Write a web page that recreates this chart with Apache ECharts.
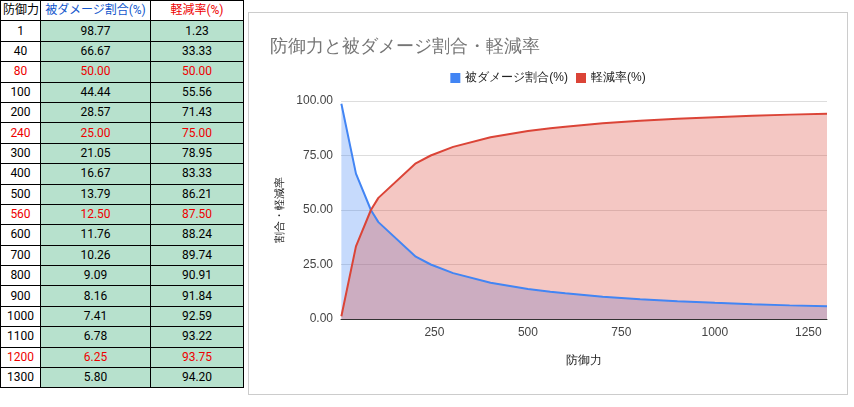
<!DOCTYPE html>
<html><head><meta charset="utf-8">
<script src="https://cdn.jsdelivr.net/npm/echarts@6/dist/echarts.min.js"></script>
<style>
body{margin:0;width:854px;height:407px;background:#fff;font-family:Roboto,"Noto Sans CJK JP",sans-serif;position:relative;overflow:hidden}
table{position:absolute;left:0;top:0;border-collapse:collapse;font-size:12px;table-layout:fixed;width:243px}
td{border:1px solid #000;height:20.4px;padding:0 2px;text-align:center;line-height:19px;white-space:nowrap;overflow:hidden;box-sizing:border-box}
td.g{background:#b7e1cd}
#c{position:absolute;left:248px;top:12px;width:600px;height:383px;border:1px solid #ccc;box-sizing:border-box}
</style></head><body>
<table id="t"><colgroup><col style="width:40px"><col style="width:110px"><col style="width:93px"></colgroup><tbody id="tb"></tbody></table>
<div id="c"></div>
<script>
const defense=[1,40,80,100,200,240,300,400,500,560,600,700,800,900,1000,1100,1200,1300];
const damage=[98.77,66.67,50.00,44.44,28.57,25.00,21.05,16.67,13.79,12.50,11.76,10.26,9.09,8.16,7.41,6.78,6.25,5.80];
const reduction=[1.23,33.33,50.00,55.56,71.43,75.00,78.95,83.33,86.21,87.50,88.24,89.74,90.91,91.84,92.59,93.22,93.75,94.20];
const redRows=[80,240,560,1200];
const headers=['防御力','被ダメージ割合(%)','軽減率(%)'];
let h='<tr><td>'+headers[0]+'</td><td style="color:#1155cc">'+headers[1]+'</td><td style="color:#e00">'+headers[2]+'</td></tr>';
defense.forEach((d,i)=>{const c=redRows.includes(d)?'color:#e00':'';
h+=`<tr><td style="${c}">${d}</td><td class="g" style="${c}">${damage[i].toFixed(2)}</td><td class="g" style="${c}">${reduction[i].toFixed(2)}</td></tr>`;});
document.getElementById('tb').innerHTML=h;
const ch=echarts.init(document.getElementById('c'));
ch.setOption({
 title:{text:'防御力と被ダメージ割合・軽減率',left:16,top:20,textStyle:{color:'#757575',fontSize:18,fontWeight:'normal'}},
 legend:{top:54,left:'center',itemWidth:10,itemHeight:10,icon:'rect',textStyle:{fontSize:12,color:'#222'}},
 grid:{left:92,right:20,top:88,bottom:75},
 xAxis:{type:'value',min:0,max:1300,interval:250,name:'防御力',nameLocation:'middle',nameGap:36,nameTextStyle:{fontSize:12,color:'#222'},
  axisLine:{lineStyle:{color:'#333'}},axisTick:{show:false},splitLine:{show:false},
  axisLabel:{color:'#444',fontSize:12,formatter:v=>v===0?'':v}},
 yAxis:{type:'value',min:0,max:100,interval:25,name:'割合・軽減率',nameLocation:'middle',nameGap:48,nameTextStyle:{fontSize:11,color:'#222'},
  axisLine:{show:false},axisTick:{show:false},splitLine:{lineStyle:{color:'#ddd'}},
  axisLabel:{color:'#444',fontSize:12,formatter:v=>v.toFixed(2)}},
 series:[
  {name:'被ダメージ割合(%)',type:'line',symbol:'none',data:defense.map((d,i)=>[d,damage[i]]),color:'#4285f4',lineStyle:{width:2},areaStyle:{opacity:0.3}},
  {name:'軽減率(%)',type:'line',symbol:'none',data:defense.map((d,i)=>[d,reduction[i]]),color:'#db4437',lineStyle:{width:2},areaStyle:{opacity:0.3}}
 ]
});
</script></body></html>
